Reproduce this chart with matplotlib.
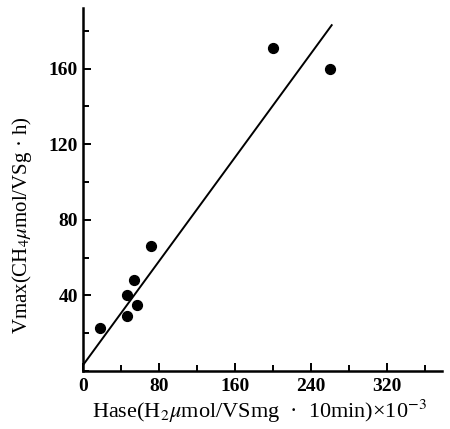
import numpy as np
import matplotlib.pyplot as plt
from matplotlib.ticker import MultipleLocator

# values
hase = [18, 46, 47, 54, 57, 72, 200, 260]
vmax = [23, 40, 29, 48, 35, 66, 171, 160]
fit_x = [0, 262]
fit_y = [3, 183]

plt.rcParams['font.family'] = ['Liberation Serif', 'DejaVu Serif']
plt.rcParams['mathtext.fontset'] = 'stix'

fig = plt.figure(figsize=(4.5, 4.29), dpi=100)
ax = fig.add_axes([0.184, 0.135, 0.798, 0.846])

ax.scatter(hase, vmax, s=50, color='black', zorder=3)
ax.plot(fit_x, fit_y, color='black', lw=1.4)

ax.set_xlim(0, 378)
ax.set_ylim(0, 192)
ax.xaxis.set_major_locator(MultipleLocator(80))
ax.xaxis.set_minor_locator(MultipleLocator(40))
ax.yaxis.set_major_locator(MultipleLocator(40))
ax.yaxis.set_minor_locator(MultipleLocator(20))
ax.set_yticks([40, 80, 120, 160])
ax.tick_params(which='both', direction='in', width=1.4, labelsize=14)
ax.tick_params(which='major', length=6)
ax.tick_params(which='minor', length=4)
ax.tick_params(axis='x', pad=5)
for lab in ax.get_xticklabels() + ax.get_yticklabels():
    lab.set_fontweight('semibold')

for s in ['top', 'right']:
    ax.spines[s].set_visible(False)
for s in ['left', 'bottom']:
    ax.spines[s].set_linewidth(1.8)

fig.text(0.204, 0.042, r'Hase(H$_2\mu$mol/VSmg  ·  10min)×10$^{-3}$',
         fontsize=16, ha='left', va='center')
fig.text(0.05, 0.475, r'Vmax(CH$_4\mu$mol/VSg · h)', fontsize=15,
         rotation=90, ha='center', va='center')

fig.savefig('out.png', dpi=100)
